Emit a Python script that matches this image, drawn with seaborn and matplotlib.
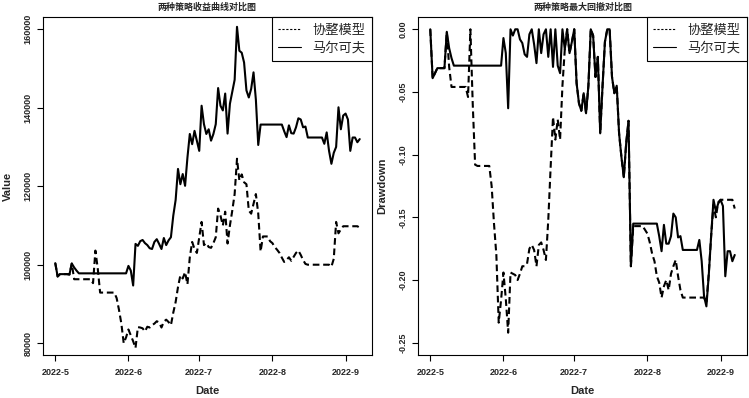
import numpy as np
import pandas as pd
import matplotlib
matplotlib.use("Agg")
import matplotlib.pyplot as plt
import seaborn as sns
from matplotlib.lines import Line2D

# ---------------- data ----------------
start_date = "2022-05-01"
end_date = "2022-09-07"
series_names = ["协整模型", "马尔可夫"]
month_ticks = ["2022-05-01", "2022-06-01", "2022-07-01", "2022-08-01", "2022-09-01"]
month_labels = ["2022-5", "2022-6", "2022-7", "2022-8", "2022-9"]
value_ticks = [80000, 100000, 120000, 140000, 160000]
value_labels = ["80000", "100000", "120000", "140000", "160000"]
dd_ticks = [0.0, -0.05, -0.10, -0.15, -0.20, -0.25]
dd_labels = ["0.00", "-0.05", "-0.10", "-0.15", "-0.20", "-0.25"]

markov_value = [
    100400, 97000, 97600, 97600, 97600, 97600, 97500, 100300, 99300, 98500,
    97800, 97800, 97800, 97800, 97800, 97800, 97800, 97800, 97800, 97800,
    97800, 97800, 97800, 97800, 97800, 97800, 97800, 97800, 97800, 97800,
    97800, 99700, 98500, 94700, 105300, 104800, 106000, 106300, 105500, 105000,
    104200, 104000, 105800, 106500, 105300, 104000, 106800, 105000, 106200, 107000,
    112500, 116500, 124400, 120500, 123100, 120100, 127300, 133300, 130700, 134100,
    131600, 129000, 140500, 135800, 133300, 134500, 131600, 133300, 135800, 145000,
    140500, 139300, 143600, 133400, 141000, 144000, 147100, 160600, 154500, 154000,
    151500, 144400, 142600, 144800, 149000, 142000, 130500, 135700, 135700, 135700,
    135700, 135700, 135700, 135700, 135700, 135700, 135700, 134000, 132500, 135500,
    133500, 133400, 135000, 137300, 137000, 135000, 135200, 132400, 132400, 132400,
    132400, 132400, 132400, 132400, 130800, 133700, 129000, 125700, 128500, 130000,
    140100, 134500, 138000, 138500, 137000, 129000, 132400, 132400, 131200, 132000,
]

coint_value = [
    100400, 97000, 97600, 97600, 97600, 97600, 97500, 100300, 96300, 96300,
    96300, 96300, 96300, 96300, 96300, 96300, 95300, 103600, 99000, 92900,
    92900, 92900, 92900, 92900, 92900, 92900, 91500, 88500, 85000, 80000,
    81500, 83500, 82000, 80500, 78800, 84100, 84000, 83800, 83000, 84200,
    84000, 84600, 85000, 85600, 85300, 84000, 85500, 86000, 85400, 84600,
    87800, 90500, 94300, 97300, 96500, 98100, 95000, 101900, 105800, 104000,
    103000, 107000, 110900, 105000, 105500, 104500, 104300, 105500, 107000, 114300,
    112500, 110000, 113500, 105400, 110000, 113800, 118000, 127000, 121500, 123000,
    121000, 120500, 113800, 113000, 115500, 118000, 113000, 103400, 107200, 107200,
    107200, 106000, 105500, 104500, 103800, 103000, 101800, 100700, 101200, 101900,
    101000, 102000, 103000, 103600, 102500, 101200, 100200, 100000, 100000, 100000,
    100000, 100000, 100000, 100000, 100000, 100000, 100000, 99500, 101500, 110900,
    108000, 109000, 109800, 109800, 109800, 109800, 109800, 109800, 109800, 109400,
]

markov_dd = [
    0.0, -0.039, -0.035, -0.031, -0.031, -0.031, -0.031, -0.002, -0.015, -0.023,
    -0.029, -0.029, -0.029, -0.029, -0.029, -0.029, -0.029, -0.029, -0.029, -0.029,
    -0.029, -0.029, -0.029, -0.029, -0.029, -0.029, -0.029, -0.029, -0.029, -0.029,
    -0.029, -0.007, -0.019, -0.063, 0.0, -0.005, 0.0, 0.0, -0.008, -0.011,
    -0.020, -0.022, -0.004, 0.0, -0.012, -0.027, 0.0, -0.019, -0.004, 0.0,
    -0.022, 0.0, -0.030, 0.0, -0.029, -0.035, 0.0, -0.016, 0.0, -0.019,
    -0.010, 0.0, -0.043, -0.059, -0.065, -0.051, -0.067, -0.045, 0.0, -0.005,
    -0.038, -0.022, -0.083, -0.045, -0.010, 0.0, 0.0, -0.038, -0.051, -0.045,
    -0.083, -0.102, -0.118, -0.091, -0.073, -0.189, -0.155, -0.155, -0.155, -0.155,
    -0.155, -0.155, -0.155, -0.155, -0.155, -0.155, -0.155, -0.165, -0.177, -0.156,
    -0.171, -0.171, -0.165, -0.147, -0.150, -0.166, -0.165, -0.176, -0.176, -0.176,
    -0.176, -0.176, -0.176, -0.176, -0.168, -0.185, -0.213, -0.221, -0.196, -0.165,
    -0.136, -0.145, -0.139, -0.136, -0.141, -0.197, -0.177, -0.177, -0.185, -0.180,
]

coint_dd = [
    0.0, -0.039, -0.035, -0.031, -0.031, -0.031, -0.031, -0.002, -0.030, -0.046,
    -0.046, -0.046, -0.046, -0.046, -0.046, -0.046, -0.054, 0.0, -0.060, -0.108,
    -0.109, -0.109, -0.109, -0.109, -0.109, -0.109, -0.125, -0.155, -0.180, -0.234,
    -0.216, -0.194, -0.215, -0.242, -0.194, -0.195, -0.196, -0.200, -0.195, -0.189,
    -0.189, -0.187, -0.175, -0.172, -0.176, -0.189, -0.172, -0.170, -0.176, -0.184,
    -0.152, -0.110, -0.070, -0.088, -0.072, -0.088, -0.045, -0.016, 0.0, -0.019,
    -0.010, 0.0, -0.043, -0.059, -0.065, -0.051, -0.067, -0.045, 0.0, -0.005,
    -0.038, -0.022, -0.083, -0.045, -0.010, 0.0, 0.0, -0.038, -0.051, -0.045,
    -0.083, -0.102, -0.118, -0.091, -0.073, -0.189, -0.157, -0.157, -0.157, -0.157,
    -0.157, -0.160, -0.163, -0.170, -0.179, -0.185, -0.197, -0.202, -0.214, -0.205,
    -0.200, -0.208, -0.195, -0.189, -0.184, -0.197, -0.208, -0.214, -0.214, -0.214,
    -0.214, -0.214, -0.214, -0.214, -0.214, -0.214, -0.214, -0.218, -0.195, -0.165,
    -0.140, -0.150, -0.138, -0.136, -0.136, -0.136, -0.136, -0.136, -0.136, -0.143,
]

# ---------------- frames ----------------
dates = pd.date_range(start_date, end_date, freq="D")
df_coint = pd.DataFrame({"Date": dates, "Value": coint_value, "Drawdown": coint_dd})
df_markov = pd.DataFrame({"Date": dates, "Value": markov_value, "Drawdown": markov_dd})

# ---------------- style ----------------
sns.set_style("ticks")
plt.rcParams["font.family"] = ["Liberation Sans", "Noto Sans CJK SC", "DejaVu Sans"]
plt.rcParams["axes.edgecolor"] = "black"
plt.rcParams["axes.linewidth"] = 0.8

W, H = 749, 398
fig = plt.figure(figsize=(W / 100, H / 100), dpi=100)
ax_l, ax_b, ax_w, ax_h = 43, 43, 329, 338
ax1 = fig.add_axes([ax_l / W, ax_b / H, ax_w / W, ax_h / H])
ax2 = fig.add_axes([(ax_l + 375) / W, ax_b / H, ax_w / W, ax_h / H])

dash_style = (3.2, 1.8)
lw = 1.5

panels = [
    (ax1, "Value", "两种策略收益曲线对比图", (77000, 163100), value_ticks, value_labels),
    (ax2, "Drawdown", "两种策略最大回撤对比图", (-0.2598, 0.0098), dd_ticks, dd_labels),
]

x0 = pd.Timestamp(start_date) - pd.Timedelta(days=5.2)
x1 = pd.Timestamp(end_date) + pd.Timedelta(days=5.2)

for ax, col, title, ylim, yt, ytl in panels:
    sns.lineplot(data=df_coint, x="Date", y=col, ax=ax, color="black",
                 linewidth=lw, dashes=False, legend=False)
    ax.lines[-1].set_dashes(dash_style)
    sns.lineplot(data=df_markov, x="Date", y=col, ax=ax, color="black",
                 linewidth=lw, legend=False)

    ax.set_xlim(x0, x1)
    ax.set_ylim(*ylim)
    ax.set_xticks(pd.to_datetime(month_ticks))
    ax.set_xticklabels(month_labels, fontsize=6.5, fontweight="bold")
    ax.set_yticks(yt)
    ax.set_yticklabels(ytl, fontsize=6.5, fontweight="bold", rotation=90, va="center")
    ax.tick_params(axis="both", direction="out", length=4.3, width=0.8, color="black")
    ax.tick_params(axis="x", pad=5)
    ax.tick_params(axis="y", pad=3)
    for s in ax.spines.values():
        s.set_visible(True)
        s.set_linewidth(0.8)
        s.set_color("black")

    ax.set_xlabel("Date", fontsize=8, fontweight="bold")
    ax.set_ylabel(col, fontsize=8, fontweight="bold")
    ax.xaxis.label.set_va("center")
    ax.xaxis.set_label_coords(0.5, -(391.5 - 355) / ax_h)
    ax.yaxis.label.set_va("center")
    ax.yaxis.set_label_coords(-(ax_l - 7.5) / ax_w, 0.5)

    ax.set_title(title, fontsize=6.5, fontweight="bold",
                 family=["Noto Sans CJK SC", "DejaVu Sans"], pad=5)

    handles = [
        Line2D([], [], color="black", lw=0.8, linestyle=(0, (2, 1.5))),
        Line2D([], [], color="black", lw=0.8),
    ]
    leg = ax.legend(handles, series_names, loc="upper right", bbox_to_anchor=(1, 1),
                    borderaxespad=0, fancybox=False, framealpha=1, edgecolor="black",
                    prop={"family": ["Noto Sans CJK SC"], "size": 9.5},
                    handlelength=1.7, handletextpad=0.9, labelspacing=0.35, borderpad=0.5)
    leg.get_frame().set_linewidth(0.8)

fig.savefig("out.png", dpi=100, facecolor="white")
